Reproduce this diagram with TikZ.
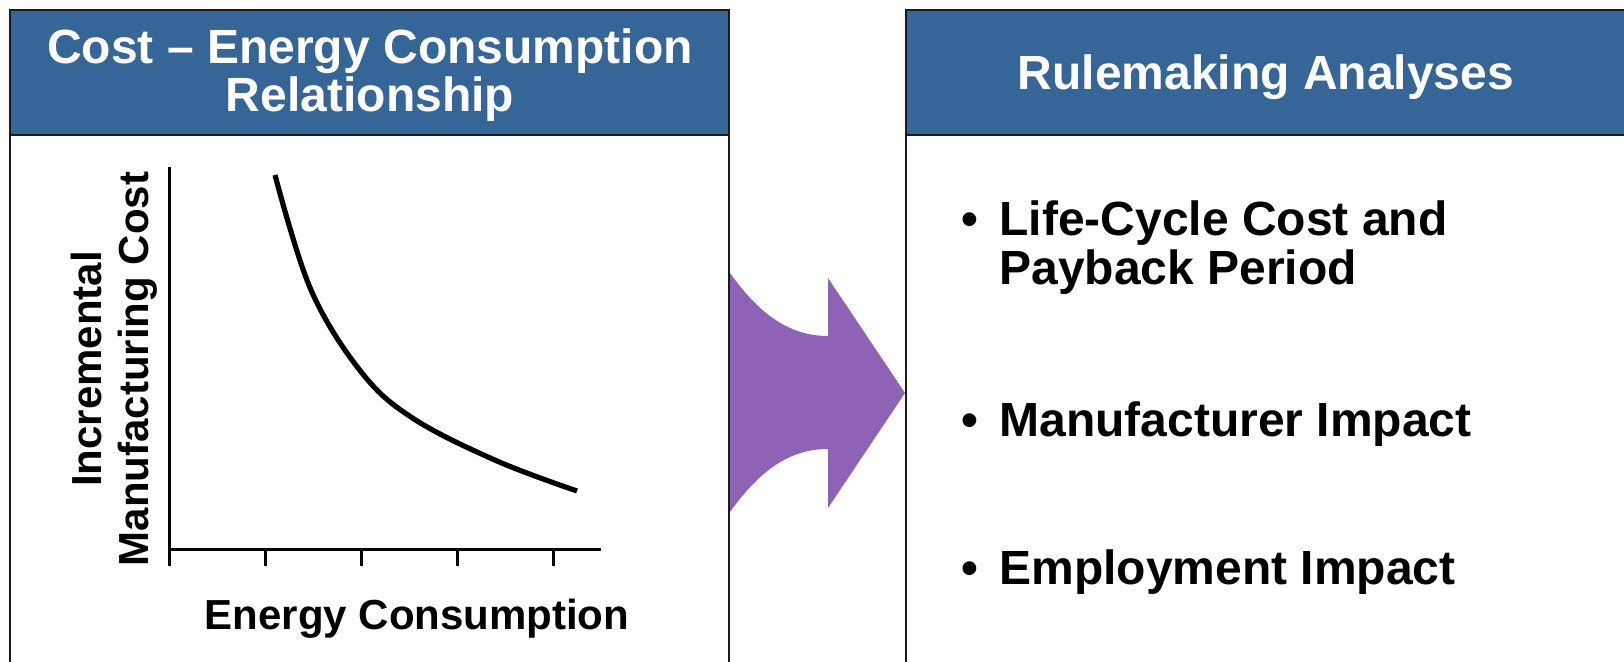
\documentclass[tikz,border=0pt]{standalone}
\usepackage{fontspec}
\setmainfont{Liberation Sans}
\definecolor{hdr}{RGB}{54,101,152}
\definecolor{purp}{RGB}{142,99,181}
\definecolor{bord}{RGB}{26,26,26}
\begin{document}
\begin{tikzpicture}[x=0.5pt,y=-0.5pt,
  boxline/.style={draw=bord,line width=1.3pt},
  hdrtext/.style={font=\bfseries\fontsize{24}{24}\selectfont,text=white,inner sep=0pt,anchor=base},
  bultext/.style={font=\bfseries\fontsize{24}{24}\selectfont,inner sep=0pt,anchor=base west},
  bulmark/.style={font=\bfseries\fontsize{24}{24}\selectfont,inner sep=0pt,anchor=base},
  axtext/.style={font=\bfseries\fontsize{21}{21}\selectfont,inner sep=0pt,anchor=base},
  axline/.style={line width=1.5pt,black}]
\useasboundingbox (0,0) rectangle (1624,662);
\clip (0,0) rectangle (1624,662);
% left panel
\fill[hdr] (10,10) rectangle (729,135);
\draw[boxline] (10,700) -- (10,10) -- (729,10) -- (729,700);
\draw[boxline] (10,135) -- (729,135);
% right panel
\fill[hdr] (906,10) rectangle (1640,135);
\draw[boxline] (906,700) -- (906,10) -- (1640,10);
\draw[boxline] (906,135) -- (1640,135);
% titles
\node[hdrtext] (t1) at (370,64) {Cost – Energy Consumption};
\node[hdrtext] (t2) at (370,112) {Relationship};
\node[hdrtext] (t3) at (1266,90) {Rulemaking Analyses};
% arrow
\fill[purp] (730,273) .. controls (760,315) and (790,336) .. (828,336)
  -- (828,278) -- (905,393) -- (828,508) -- (828,449)
  .. controls (790,449) and (760,470) .. (730,512) -- cycle;
% axes
\draw[axline] (169,167) -- (169,566);
\draw[axline] (169,550) -- (601,550);
\foreach \tx in {265,361,457,553} \draw[axline] (\tx,550) -- (\tx,566);
\draw[line width=2.6pt,black] plot[smooth,tension=0.6] coordinates
  {(275,175) (311,290) (362,373) (414,419) (497,461) (577,491)};
\node[axtext,rotate=90] (yl1) at (101,369) {Incremental};
\node[axtext,rotate=90] (yl2) at (148,369) {Manufacturing Cost};
\node[axtext] (xl) at (417,630) {Energy Consumption};
% bullets
\node[bulmark] (m1) at (970,236) {•};
\node[bultext] (b1a) at (999,236) {Life-Cycle Cost and};
\node[bultext] (b1b) at (999,285) {Payback Period};
\node[bulmark] (m2) at (970,437) {•};
\node[bultext] (b2) at (999,437) {Manufacturer Impact};
\node[bulmark] (m3) at (970,585) {•};
\node[bultext] (b3) at (999,585) {Employment Impact};
\end{tikzpicture}
\end{document}
